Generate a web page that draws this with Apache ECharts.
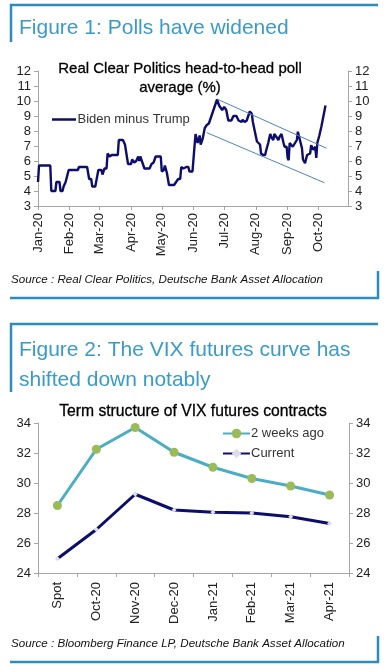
<!DOCTYPE html>
<html><head><meta charset="utf-8">
<script src="https://cdn.jsdelivr.net/npm/echarts@6/dist/echarts.min.js"></script>
<style>html,body{margin:0;padding:0;background:#fff}#c{width:385px;height:669px}</style>
</head><body><div id="c"></div>
<script>
// ---- Figure 1 data: RCP head-to-head poll average, Biden minus Trump (%) ----
const pollDates = ["2020-01-01","2020-01-02","2020-01-13","2020-01-14","2020-01-18","2020-01-19","2020-01-22","2020-01-23","2020-01-25","2020-01-26","2020-01-28","2020-01-31","2020-02-09","2020-02-10","2020-02-18","2020-02-19","2020-02-20","2020-02-22","2020-02-23","2020-02-26","2020-02-29","2020-03-03","2020-03-04","2020-03-06","2020-03-08","2020-03-09","2020-03-11","2020-03-13","2020-03-19","2020-03-20","2020-03-24","2020-03-26","2020-03-27","2020-03-29","2020-04-01","2020-04-02","2020-04-04","2020-04-06","2020-04-08","2020-04-09","2020-04-10","2020-04-12","2020-04-14","2020-04-19","2020-04-21","2020-04-23","2020-04-25","2020-04-30","2020-05-01","2020-05-03","2020-05-04","2020-05-06","2020-05-08","2020-05-13","2020-05-15","2020-05-17","2020-05-19","2020-05-20","2020-05-22","2020-05-25","2020-05-27","2020-05-28","2020-05-31","2020-06-02","2020-06-03","2020-06-05","2020-06-07","2020-06-08","2020-06-10","2020-06-12","2020-06-14","2020-06-16","2020-06-19","2020-06-22","2020-06-24","2020-06-26","2020-06-27","2020-06-29","2020-07-01","2020-07-03","2020-07-05","2020-07-08","2020-07-10","2020-07-13","2020-07-15","2020-07-18","2020-07-19","2020-07-21","2020-07-23","2020-07-24","2020-07-26","2020-07-28","2020-07-29","2020-07-31","2020-08-02","2020-08-05","2020-08-06","2020-08-08","2020-08-10","2020-08-11","2020-08-13","2020-08-15","2020-08-16","2020-08-18","2020-08-19","2020-08-21","2020-08-23","2020-08-24","2020-08-26","2020-08-28","2020-08-29","2020-08-31","2020-09-01","2020-09-02","2020-09-03","2020-09-06","2020-09-10","2020-09-11","2020-09-13","2020-09-15","2020-09-16","2020-09-18","2020-09-20","2020-09-21","2020-09-23","2020-09-24","2020-09-26","2020-09-28","2020-09-29","2020-09-30","2020-10-02","2020-10-04","2020-10-06","2020-10-08"];
const pollValues = [4.6,5.7,5.7,4.0,4.0,4.6,4.6,4.0,4.0,4.3,4.6,5.4,5.4,5.6,5.6,5.2,4.8,4.8,4.3,4.3,5.4,5.4,5.1,5.5,5.5,6.5,6.3,6.4,6.4,7.4,7.4,7.1,7.1,5.8,5.8,6.1,5.9,6.0,6.3,6.0,6.3,5.9,5.5,5.5,5.8,5.9,6.3,6.3,5.3,5.4,5.7,5.2,4.4,4.4,4.6,4.8,4.8,5.6,5.5,5.6,5.6,5.3,5.3,7.0,7.8,7.2,7.7,7.1,7.5,8.2,8.4,8.5,9.1,9.7,10.1,9.7,9.8,9.4,9.6,9.4,8.7,8.7,9.0,9.0,8.7,8.6,8.75,8.6,8.7,8.7,9.3,9.15,8.6,7.95,7.3,7.1,6.5,6.4,6.4,6.7,7.2,7.8,7.6,7.4,7.8,7.6,7.4,7.6,7.8,7.2,6.95,6.95,6.2,6.05,7.2,6.95,7.4,7.95,7.4,6.85,6.1,5.85,6.4,6.5,6.5,7.05,6.75,6.95,6.2,7.2,7.7,8.3,9.0,9.7];
const channelUpperDates = ["2020-06-24","2020-10-09"];
const channelUpperValues = [10.13,6.85];
const channelLowerDates = ["2020-06-14","2020-10-07"];
const channelLowerValues = [7.89,4.55];
const monthNames = ["Jan","Feb","Mar","Apr","May","Jun","Jul","Aug","Sep","Oct","Nov","Dec"];

// ---- Figure 2 data: VIX futures term structure ----
const vixCategories = ["Spot","Oct-20","Nov-20","Dec-20","Jan-21","Feb-21","Mar-21","Apr-21"];
const vix2WeeksAgo = [28.5,32.25,33.7,32.05,31.05,30.3,29.8,29.2];
const vixCurrent = [24.95,26.9,29.25,28.2,28.05,28.0,27.75,27.3];

const FONT = '"Liberation Sans", Arial, Helvetica, sans-serif';
const TEAL = '#3a9bc9';
const BORDER = '#2d8cb9';
const AXIS = '#a6a6a6';
const NAVY = '#0d0d6b';
const LINE_ICON = 'path://M0,0L24,0L24,2.5L0,2.5Z';

const chart = echarts.init(document.getElementById('c'), null, {renderer:'canvas'});

function yAxisCommon(gridIndex, min, max, interval, pos){
  return {
    type:'value', gridIndex, position:pos, min, max, interval,
    axisLine:{show:true, lineStyle:{color:AXIS, width:1}},
    axisTick:{show:true, length:4, inside:false, lineStyle:{color:AXIS}},
    splitLine:{show:false},
    axisLabel:{color:'#222', fontSize:13, fontFamily:FONT, margin:7}
  };
}

const option = {
  animation:false,
  textStyle:{fontFamily:FONT},
  grid:[
    {left:38, right:37, top:71, height:135, containLabel:false},
    {left:38, right:36, top:423, height:150, containLabel:false}
  ],
  xAxis:[
    {
      type:'time', gridIndex:0,
      min:'2020-01-01', max:'2020-10-30',
      minInterval:28*86400000, maxInterval:31*86400000,
      axisLine:{show:true, lineStyle:{color:AXIS}},
      axisTick:{show:true, length:4, lineStyle:{color:AXIS}},
      splitLine:{show:false},
      axisLabel:{
        rotate:90, color:'#222', fontSize:13, fontFamily:FONT, margin:7,
        showMaxLabel:false, hideOverlap:false,
        formatter:function(v){ const d=new Date(v); return monthNames[d.getMonth()]+'-'+String(d.getFullYear()).slice(2); }
      }
    },
    {
      type:'category', gridIndex:1, data:vixCategories, boundaryGap:true,
      axisLine:{show:true, lineStyle:{color:AXIS}},
      axisTick:{show:true, length:4, alignWithLabel:false, lineStyle:{color:AXIS}},
      axisLabel:{rotate:90, color:'#222', fontSize:13, fontFamily:FONT, margin:9, interval:0}
    }
  ],
  yAxis:[
    yAxisCommon(0,3,12,1,'left'),
    yAxisCommon(0,3,12,1,'right'),
    yAxisCommon(1,24,34,2,'left'),
    yAxisCommon(1,24,34,2,'right')
  ],
  legend:[
    {
      data:[{name:'Biden minus Trump', icon:LINE_ICON}], left:47, top:108, orient:'vertical',
      itemWidth:25, itemHeight:2.5, itemGap:4,
      textStyle:{color:'#333', fontSize:13, fontFamily:FONT, padding:[0,0,0,-4]}
    },
    {
      data:['2 weeks ago','Current'], left:217, top:422, orient:'vertical',
      itemWidth:27, itemHeight:12, itemGap:7,
      textStyle:{color:'#333', fontSize:13, fontFamily:FONT, padding:[0,0,0,-4]}
    }
  ],
  series:[
    {
      name:'Biden minus Trump', type:'line', xAxisIndex:0, yAxisIndex:0,
      data:pollDates.map((d,i)=>[d,pollValues[i]]),
      showSymbol:false, symbol:'none',
      lineStyle:{color:NAVY, width:2.4}, itemStyle:{color:NAVY}
    },
    {
      name:'channelUpper', type:'line', xAxisIndex:0, yAxisIndex:0, silent:true,
      data:channelUpperDates.map((d,i)=>[d,channelUpperValues[i]]),
      symbol:'none', lineStyle:{color:'#4f81bd', width:1}
    },
    {
      name:'channelLower', type:'line', xAxisIndex:0, yAxisIndex:0, silent:true,
      data:channelLowerDates.map((d,i)=>[d,channelLowerValues[i]]),
      symbol:'none', lineStyle:{color:'#4f81bd', width:1}
    },
    {
      name:'2 weeks ago', type:'line', xAxisIndex:1, yAxisIndex:2,
      data:vix2WeeksAgo, symbol:'circle', symbolSize:9, showSymbol:true,
      lineStyle:{color:'#4bacc6', width:3},
      itemStyle:{color:'#9bbb59', borderWidth:0}
    },
    {
      name:'Current', type:'line', xAxisIndex:1, yAxisIndex:2,
      data:vixCurrent, symbol:'diamond', symbolSize:5, showSymbol:true,
      lineStyle:{color:NAVY, width:3},
      itemStyle:{color:'#dcdcec', borderWidth:0}
    }
  ],
  graphic:[
    // Figure 1 frame
    {type:'polyline', shape:{points:[[11,42],[11,5],[378,5]]}, style:{stroke:BORDER, lineWidth:2.5, fill:null}},
    {type:'polyline', shape:{points:[[378,271],[378,298],[10,298]]}, style:{stroke:BORDER, lineWidth:2.5, fill:null}},
    {type:'text', left:19, top:18, style:{text:'Figure 1: Polls have widened', fill:TEAL, font:'21px '+FONT}},
    {type:'text', x:180, y:59, style:{text:'Real Clear Politics head-to-head poll\naverage (%)', fill:'#000', stroke:'#000', lineWidth:0.3, font:'15px '+FONT, textAlign:'center', lineHeight:19}},
    {type:'text', left:11, top:274, style:{text:'Source : Real Clear Politics, Deutsche Bank Asset Allocation', fill:'#111', font:'italic 11.6px '+FONT}},
    // Figure 2 frame
    {type:'polyline', shape:{points:[[11,392],[11,324],[378,324]]}, style:{stroke:BORDER, lineWidth:2.5, fill:null}},
    {type:'polyline', shape:{points:[[378,636],[378,662],[10,662]]}, style:{stroke:BORDER, lineWidth:2.5, fill:null}},
    {type:'text', left:19, top:335, style:{text:'Figure 2: The VIX futures curve has\nshifted down notably', fill:TEAL, font:'21px '+FONT, lineHeight:30}},
    {type:'text', x:193, y:404, style:{text:'Term structure of VIX futures contracts', fill:'#000', stroke:'#000', lineWidth:0.3, font:'15.7px '+FONT, textAlign:'center'}},
    {type:'text', left:11, top:638, style:{text:'Source : Bloomberg Finance LP, Deutsche Bank Asset Allocation', fill:'#111', font:'italic 11.6px '+FONT}}
  ]
};
chart.setOption(option);
</script></body></html>
